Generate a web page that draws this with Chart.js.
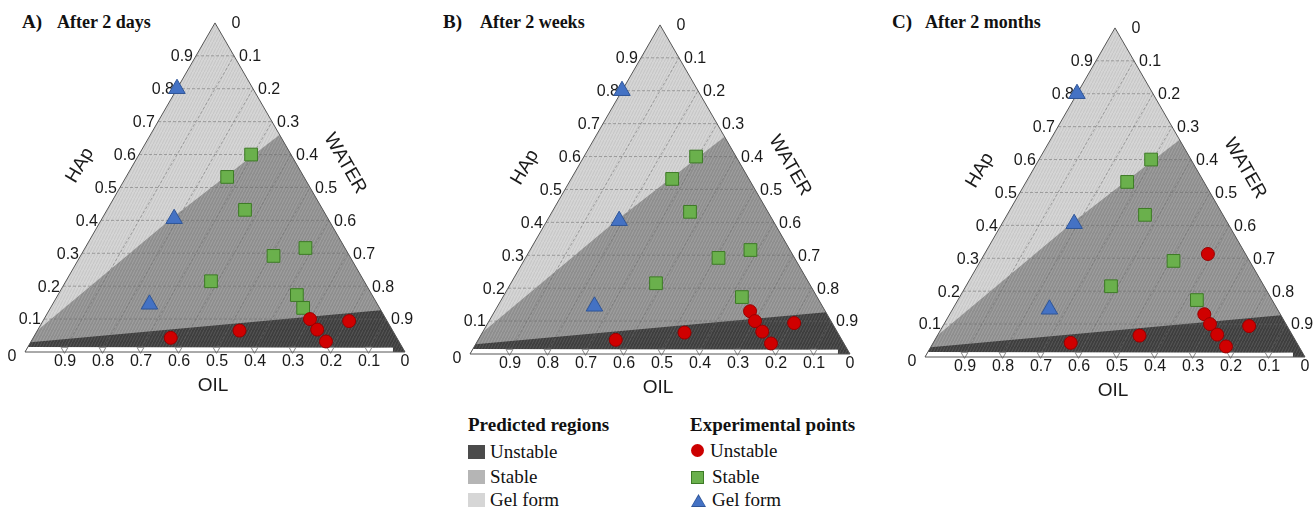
<!DOCTYPE html>
<html>
<head>
<meta charset="utf-8">
<script src="https://cdn.jsdelivr.net/npm/chart.js@4.4.0/dist/chart.umd.min.js"></script>
<style>
  html, body { margin: 0; padding: 0; background: #fff; }
  body { width: 1314px; height: 510px; overflow: hidden; position: relative; font-family: "Liberation Serif", "Times New Roman", serif; color: #111; }
  canvas.panel { position: absolute; }
  .t { position: absolute; font-weight: bold; white-space: nowrap; line-height: 1; }
  .leg { position: absolute; white-space: nowrap; font-size: 19px; line-height: 1; }
  .sw { position: absolute; width: 17px; height: 14px; }
</style>
</head>
<body>

<div class="t" style="left:22px;top:12px;font-size:19px">A)</div>
<div class="t" style="left:57px;top:13px;font-size:18px">After 2 days</div>
<div class="t" style="left:443px;top:12px;font-size:19px">B)</div>
<div class="t" style="left:480px;top:13px;font-size:18px">After 2 weeks</div>
<div class="t" style="left:892px;top:12px;font-size:19px">C)</div>
<div class="t" style="left:925px;top:13px;font-size:18px">After 2 months</div>

<canvas class="panel" id="chartA" width="440" height="400" style="left:0px;top:0px"></canvas>
<canvas class="panel" id="chartB" width="440" height="400" style="left:445px;top:2px"></canvas>
<canvas class="panel" id="chartC" width="440" height="400" style="left:900px;top:5px"></canvas>

<!-- legend -->
<div class="leg" style="left:468px;top:415px;font-weight:bold">Predicted regions</div>
<div class="sw" style="left:468px;top:445px;background:#4b4b4b"></div>
<div class="leg" style="left:490px;top:442px">Unstable</div>
<div class="sw" style="left:468px;top:470px;background:#b5b5b5"></div>
<div class="leg" style="left:490px;top:467px">Stable</div>
<div class="sw" style="left:468px;top:493px;background:#d6d6d6"></div>
<div class="leg" style="left:490px;top:490px">Gel form</div>

<div class="leg" style="left:690px;top:415px;font-weight:bold">Experimental points</div>
<div style="position:absolute;left:691px;top:444px;width:13px;height:13px;border-radius:50%;background:#cc0000"></div>
<div class="leg" style="left:710px;top:441px">Unstable</div>
<div style="position:absolute;left:691px;top:471px;width:11px;height:11px;background:#6ab04c;border:1px solid #3d7a26"></div>
<div class="leg" style="left:712px;top:467px">Stable</div>
<div style="position:absolute;left:691px;top:494px;width:15px;height:13px;background:#2f5597;clip-path:polygon(50% 0,100% 100%,0 100%)"></div>
<div style="position:absolute;left:692px;top:496px;width:13px;height:10px;background:#4472c4;clip-path:polygon(50% 0,100% 100%,0 100%)"></div>
<div class="leg" style="left:712px;top:490px">Gel form</div>

<script>
// =====================================================
// Data (compositions as [HAp, water]; oil = 1 - HAp - water)
// =====================================================

const ticks = [0.1, 0.2, 0.3, 0.4, 0.5, 0.6, 0.7, 0.8, 0.9];
const tickLabels = ['0.1', '0.2', '0.3', '0.4', '0.5', '0.6', '0.7', '0.8', '0.9'];

const gelPoints = [[0.80, 0.00], [0.405, 0.19], [0.145, 0.255]];

const stablePointsA = [[0.60, 0.295], [0.532, 0.266], [0.432, 0.363], [0.316, 0.58],
                       [0.292, 0.508], [0.215, 0.382], [0.173, 0.629], [0.134, 0.665]];
const unstablePointsA = [[0.10, 0.70], [0.068, 0.735], [0.032, 0.776], [0.094, 0.806],
                         [0.065, 0.532], [0.043, 0.362]];

const stablePointsB = [[0.60, 0.295], [0.532, 0.266], [0.432, 0.363], [0.316, 0.58],
                       [0.292, 0.508], [0.215, 0.382], [0.173, 0.629]];
const unstablePointsB = [[0.13, 0.672], [0.10, 0.70], [0.068, 0.735], [0.032, 0.776],
                         [0.094, 0.806], [0.065, 0.532], [0.043, 0.362]];

const stablePointsC = [[0.60, 0.295], [0.532, 0.266], [0.432, 0.363],
                       [0.292, 0.508], [0.215, 0.382], [0.173, 0.629]];
const unstablePointsC = [[0.313, 0.588], [0.13, 0.67], [0.10, 0.70], [0.068, 0.735],
                         [0.032, 0.776], [0.094, 0.806], [0.065, 0.532], [0.043, 0.362]];

// predicted region outlines, each closed down to the OIL axis
const gelRegion = [[0, 0], [1, 0], [0, 1]];
const stableRegion = [[0, 0], [0.065, 0], [0.41, 0.185], [0.66, 0.34], [0, 1]];
const unstableRegion = [[0, 0], [0.03, 0], [0.127, 0.873], [0, 1]];
const baseStrip = [[0, 0], [0.015, 0], [0.013, 0.962], [0, 0.968]];

const SQ = Math.sqrt(3) / 2;

function toXY(p) {
    return { x: p[1] + p[0] / 2, y: p[0] * SQ };
}

// hatched fill like the original contour plot
function hatch(base, line) {
    const c = document.createElement('canvas');
    c.width = 3; c.height = 6;
    const g = c.getContext('2d');
    g.fillStyle = base;
    g.fillRect(0, 0, 3, 6);
    g.strokeStyle = line;
    g.lineWidth = 1;
    g.beginPath();
    g.moveTo(-0.5, 7);
    g.lineTo(3.5, -1);
    g.stroke();
    return g.createPattern(c, 'repeat');
}

// =====================================================
// Tick labels and axis titles
// =====================================================

const ternaryText = {
    id: 'ternaryText',
    beforeDatasetsDraw(chart) {
        const { ctx, scales: { x, y } } = chart;
        const px = p => { const q = toXY(p); return [x.getPixelForValue(q.x), y.getPixelForValue(q.y)]; };
        ctx.save();
        ctx.fillStyle = '#1a1a1a';
        ctx.font = '16px "Liberation Sans", Arial, sans-serif';
        ctx.textBaseline = 'middle';

        ticks.forEach((t, i) => {
            let [a, b] = px([t, 0]);
            ctx.textAlign = 'right';
            ctx.fillText(tickLabels[i], a - 3, b + 1);

            [a, b] = px([1 - t, t]);
            ctx.textAlign = 'left';
            ctx.fillText(tickLabels[i], a + 5, b + 1);

            [a, b] = px([0, 1 - t]);
            ctx.textAlign = 'center';
            ctx.fillText(tickLabels[i], a + 2, b + 10);
        });

        let [a, b] = px([0, 0]);
        ctx.textAlign = 'center';
        ctx.fillText('0', a - 13, b + 5);
        [a, b] = px([0, 1]);
        ctx.fillText('0', a, b + 10);
        [a, b] = px([1, 0]);
        ctx.fillText('0', a + 21, b + 1);

        ctx.font = '19px "Liberation Sans", Arial, sans-serif';
        [a, b] = px([0, 0.5]);
        ctx.fillText('OIL', a - 2, b + 34);

        [a, b] = px([0.5, 0]);
        ctx.save();
        ctx.translate(a - 40, b - 22);
        ctx.rotate(-Math.PI / 3);
        ctx.fillText('HAp', 0, 0);
        ctx.restore();

        [a, b] = px([0.5, 0.5]);
        ctx.save();
        ctx.translate(a + 35, b - 24);
        ctx.rotate(Math.PI / 3);
        ctx.fillText('WATER', 0, 0);
        ctx.restore();

        ctx.restore();
    }
};

// =====================================================
// Build one ternary panel
// =====================================================

function regionDataset(points, fill, order) {
    return {
        data: points.map(toXY),
        borderColor: 'rgba(0,0,0,0)',
        borderWidth: 0,
        pointRadius: 0,
        backgroundColor: fill,
        fill: 'origin',
        order: order
    };
}

function lineDataset(points, color, width, dash, order) {
    return {
        data: points.map(toXY),
        borderColor: color,
        borderWidth: width,
        borderDash: dash,
        pointRadius: 0,
        fill: false,
        order: order
    };
}

function markerDataset(points, style, radius, fill, border) {
    return {
        data: points.map(toXY),
        showLine: false,
        pointStyle: style,
        pointRadius: radius,
        pointBackgroundColor: fill,
        pointBorderColor: border,
        pointBorderWidth: 1,
        order: 0
    };
}

function initPanel(id, stablePts, unstablePts) {
    const ctx = document.getElementById(id);
    const datasets = [
        markerDataset(unstablePts, 'circle', 6.5, '#d00000', '#9a0000'),
        markerDataset(stablePts, 'rect', 9, '#6ab04c', '#3d7a26'),
        markerDataset(gelPoints, 'triangle', 9.5, '#4472c4', '#2f5597'),
        lineDataset([[0, 0], [1, 0], [0, 1], [0, 0]], '#555', 1, [], 1),
        {
            data: ticks.map(t => toXY([0.008, 1 - t])),
            showLine: false,
            pointStyle: 'triangle',
            rotation: 180,
            pointRadius: 4,
            pointBackgroundColor: '#fff',
            pointBorderColor: '#888',
            pointBorderWidth: 1,
            order: 2
        },
        regionDataset(baseStrip, '#ffffff', 3)
    ];

    ticks.forEach(t => {
        datasets.push(lineDataset([[t, 0], [t, 1 - t]], 'rgba(105,105,105,0.65)', 0.8, [3, 2], 4));
        datasets.push(lineDataset([[0, t], [1 - t, t]], 'rgba(105,105,105,0.65)', 0.8, [3, 2], 4));
    });

    datasets.push(regionDataset(unstableRegion, hatch('#3e3e3e', '#585858'), 5));
    datasets.push(regionDataset(stableRegion, hatch('#8e8e8e', '#a2a2a2'), 6));
    datasets.push(regionDataset(gelRegion, hatch('#d5d5d5', '#c4c4c4'), 7));

    return new Chart(ctx, {
        type: 'line',
        data: { datasets: datasets },
        options: {
            responsive: false,
            animation: false,
            layout: { padding: 0, autoPadding: false },
            plugins: { legend: { display: false }, tooltip: { enabled: false } },
            scales: {
                x: { type: 'linear', display: false, min: -25 / 380, max: 415 / 380 },
                y: { type: 'linear', display: false, min: -48 / 380, max: 352 / 380 }
            }
        },
        plugins: [ternaryText]
    });
}

initPanel('chartA', stablePointsA, unstablePointsA);
initPanel('chartB', stablePointsB, unstablePointsB);
initPanel('chartC', stablePointsC, unstablePointsC);
</script>
</body>
</html>
